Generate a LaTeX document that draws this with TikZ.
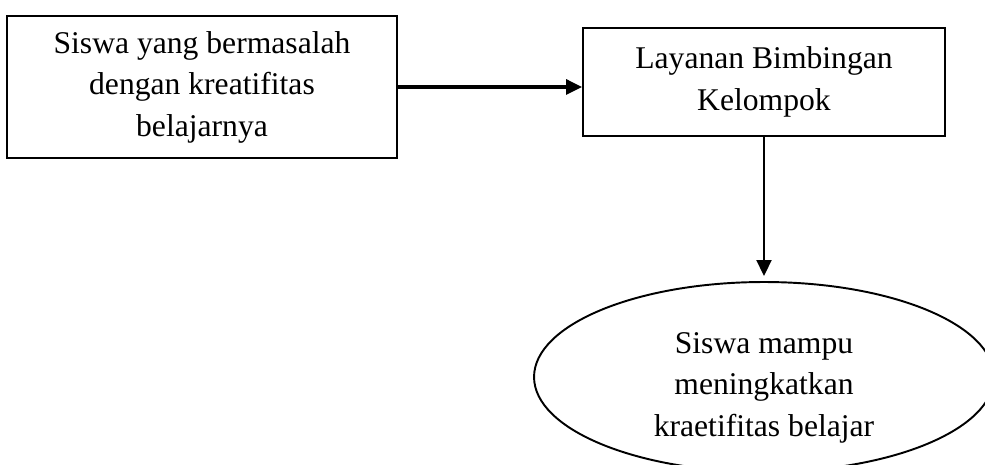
\documentclass[tikz,border=0pt]{standalone}
\usepackage{fontspec}
\setmainfont{Liberation Serif}
\usetikzlibrary{shapes.geometric,arrows.meta}

\begin{document}
\begin{tikzpicture}[x=0.02cm,y=-0.02cm,
    teks/.style={align=center,font=\fontsize{18pt}{23.6pt}\selectfont},
    kotak/.style={teks,draw,line width=1.1pt,rectangle,inner sep=0pt},
    lonjong/.style={teks,draw,line width=1.1pt,ellipse,inner sep=0pt},
    panah/.style={-{Triangle[length=0.32cm,width=0.3cm]}}]
    \useasboundingbox (0,0) rectangle (985,465);
    \clip (0,0) rectangle (985,465);
    \node[kotak,minimum width=7.8cm,minimum height=2.84cm] (siswa) at (202,87)
        {Siswa yang bermasalah\\dengan kreatifitas\\belajarnya};
    \node[kotak,minimum width=7.24cm,minimum height=2.16cm] (layanan) at (764,82)
        {Layanan Bimbingan\\Kelompok};
    \node[lonjong,minimum width=9.2cm,minimum height=3.8cm] (hasil) at (764,377)
        {\rule{0pt}{24pt}Siswa mampu\\meningkatkan\\kraetifitas belajar};
    \draw[panah,line width=1.8pt] (siswa.east) -- (siswa.east -| layanan.west);
    \draw[panah,line width=1.1pt,shorten >=0.1cm] (layanan.south) -- (hasil.north);
\end{tikzpicture}
\end{document}
